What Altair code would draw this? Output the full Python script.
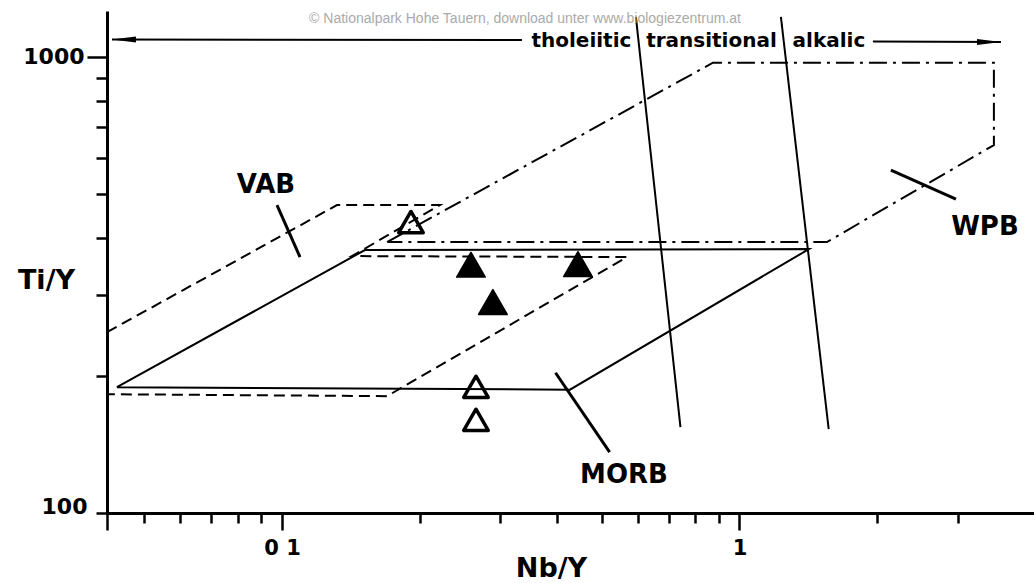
import altair as alt
import pandas as pd

# ---- axes -------------------------------------------------------------
X_DOMAIN = [0.04145, 4.404]
Y_DOMAIN = [100, 1259]
X_TICKS = [0.04145, 0.05, 0.06, 0.07, 0.08, 0.09, 0.1, 0.2, 0.3, 0.4, 0.5,
           0.6, 0.7, 0.8, 0.9, 1, 2, 3]
Y_TICKS = [100, 200, 300, 400, 500, 600, 700, 800, 900, 1000]

# ---- field outlines (Nb/Y, Ti/Y) --------------------------------------
VAB_X = [0.04145, 0.1319, 0.2215, 0.1422, 0.5675, 0.1697, 0.04145]
VAB_Y = [249, 473, 473, 365.6, 363.8, 180.3, 182.1]
MORB_X = [0.04357, 0.1518, 1.419, 0.4261, 0.04357]
MORB_Y = [188.7, 376.9, 378.8, 186.3, 188.7]
WPB_X = [0.1697, 0.8752, 3.599, 3.599, 1.553, 0.1697]
WPB_Y = [392.4, 970, 970, 640, 392.4, 392.4]

# ---- straight segments ------------------------------------------------
DIV_X0 = [0.5938, 1.232, 0.0425, 1.958]
DIV_Y0 = [1222, 1222, 1090, 1080]
DIV_X1 = [0.7431, 1.567, 0.3346, 3.729]
DIV_Y1 = [154.2, 152.6, 1088, 1077]

LEAD_X0 = [0.09752, 2.143, 0.3962]
LEAD_Y0 = [473, 563.8, 202.9]
LEAD_X1 = [0.1095, 2.973, 0.5203]
LEAD_Y1 = [363.8, 487.5, 135.9]

# ---- arrow heads ------------------------------------------------------
ARROW_L_X = [0.04514]
ARROW_L_Y = [1090]
ARROW_R_X = [3.511]
ARROW_R_Y = [1077]

# ---- samples ----------------------------------------------------------
FILLED_X = [0.2589, 0.2891, 0.4436]
FILLED_Y = [350, 290, 351]
OPEN_X = [0.1914, 0.2655, 0.2655]
OPEN_Y = [434, 189, 160]

# ---- text -------------------------------------------------------------
FIELD_TEXT = ["VAB", "WPB", "MORB"]
FIELD_X = [0.09226, 3.441, 0.5593]
FIELD_Y = [523, 423, 121]

HEADER_TEXT = ["tholeiitic", "transitional", "alkalic"]
HEADER_X = [0.4514, 0.8686, 1.569]
HEADER_Y = [1082, 1082, 1082]

WATERMARK = ["\u00a9 Nationalpark Hohe Tauern, download unter www.biologiezentrum.at"]
WATERMARK_X = [0.3398]
WATERMARK_Y = [1210]

FONT = "DejaVu Sans"

xscale = alt.Scale(type="log", domain=X_DOMAIN, nice=False)
yscale = alt.Scale(type="log", domain=Y_DOMAIN, nice=False)

x_axis = alt.Axis(
    values=X_TICKS, grid=False,
    title="Nb/Y", titleX=444, titleY=55, titleAlign="center", titleBaseline="middle",
    titleFont=FONT, titleFontSize=27, titleFontWeight="bold", titleColor="black",
    labelExpr="datum.value == 0.1 ? '0 1' : (datum.value == 1 ? '1' : '')",
    labelFont=FONT, labelFontSize=21, labelFontWeight="bold", labelColor="black",
    labelPadding=7, labelOverlap=False, labelFlush=False, labelBaseline="top",
    tickSize={"condition": {"test": "datum.value < 0.045 || datum.value == 0.1 || datum.value == 1",
                            "value": 17}, "value": 10},
    tickWidth=2.5, tickColor="black", domainColor="black", domainWidth=3,
)
y_axis = alt.Axis(
    values=Y_TICKS, grid=False,
    title="Ti/Y", titleAngle=0, titleX=-61, titleY=269, titleAlign="center", titleBaseline="middle",
    titleFont=FONT, titleFontSize=27, titleFontWeight="bold", titleColor="black",
    labelExpr="datum.value == 1000 ? '1000' : (datum.value == 100 ? '100' : '')",
    labelFont=FONT, labelFontSize=22, labelFontWeight="bold", labelColor="black",
    labelOverlap=False, labelFlush=False,
    labelPadding={"condition": {"test": "datum.value == 1000", "value": 3}, "value": 9},
    labelOffset={"condition": {"test": "datum.value == 100", "value": -7}, "value": 0},
    tickSize={"condition": {"test": "datum.value == 1000", "value": 20}, "value": 11},
    tickWidth=2.5, tickColor="black", domainColor="black", domainWidth=3,
)


def X(field="x"):
    return alt.X(f"{field}:Q", scale=xscale, axis=x_axis)


def Y(field="y"):
    return alt.Y(f"{field}:Q", scale=yscale, axis=y_axis)


def path_df(xs, ys):
    return pd.DataFrame({"x": xs, "y": ys, "i": list(range(len(xs)))})


vab = alt.Chart(path_df(VAB_X, VAB_Y)).mark_line(
    color="black", strokeWidth=2, strokeDash=[11, 6]
).encode(x=X(), y=Y(), order=alt.Order("i:Q"))

morb = alt.Chart(path_df(MORB_X, MORB_Y)).mark_line(
    color="black", strokeWidth=2
).encode(x=X(), y=Y(), order=alt.Order("i:Q"))

wpb = alt.Chart(path_df(WPB_X, WPB_Y)).mark_line(
    color="black", strokeWidth=2, strokeDash=[18, 6, 3, 6]
).encode(x=X(), y=Y(), order=alt.Order("i:Q"))

div_df = pd.DataFrame({"x": DIV_X0, "y": DIV_Y0, "x2": DIV_X1, "y2": DIV_Y1})
dividers = alt.Chart(div_df).mark_rule(color="black", strokeWidth=2).encode(
    x=X(), y=Y(), x2="x2:Q", y2="y2:Q")

lead_df = pd.DataFrame({"x": LEAD_X0, "y": LEAD_Y0, "x2": LEAD_X1, "y2": LEAD_Y1})
leaders = alt.Chart(lead_df).mark_rule(color="black", strokeWidth=3).encode(
    x=X(), y=Y(), x2="x2:Q", y2="y2:Q")

arrow_l = alt.Chart(path_df(ARROW_L_X, ARROW_L_Y)).mark_point(
    shape="M-1,0L1,-0.25L1,0.25Z", filled=True, size=576, color="black", opacity=1
).encode(x=X(), y=Y())
arrow_r = alt.Chart(path_df(ARROW_R_X, ARROW_R_Y)).mark_point(
    shape="M1,0L-1,-0.25L-1,0.25Z", filled=True, size=576, color="black", opacity=1
).encode(x=X(), y=Y())

filled = alt.Chart(path_df(FILLED_X, FILLED_Y)).mark_point(
    shape="triangle-up", filled=True, size=820, color="black", opacity=1,
    stroke="black", strokeWidth=1.5, strokeJoin="round"
).encode(x=X(), y=Y())

open_tri = alt.Chart(path_df(OPEN_X, OPEN_Y)).mark_point(
    shape="triangle-up", filled=False, size=600, color="black", opacity=1,
    strokeWidth=3.5, strokeJoin="round"
).encode(x=X(), y=Y())

field_df = pd.DataFrame({"x": FIELD_X, "y": FIELD_Y, "t": FIELD_TEXT})
field_text = alt.Chart(field_df).mark_text(
    font=FONT, fontSize=26, fontWeight="bold", color="black",
    align="center", baseline="middle"
).encode(x=X(), y=Y(), text="t:N")

header_df = pd.DataFrame({"x": HEADER_X, "y": HEADER_Y, "t": HEADER_TEXT})
header_text = alt.Chart(header_df).mark_text(
    font=FONT, fontSize=20, fontWeight="bold", color="black",
    align="center", baseline="middle"
).encode(x=X(), y=Y(), text="t:N")

wm_df = pd.DataFrame({"x": WATERMARK_X, "y": WATERMARK_Y, "t": WATERMARK})
watermark = alt.Chart(wm_df).mark_text(
    font="Liberation Sans", fontSize=14, color="#aaaaaa",
    align="center", baseline="middle"
).encode(x=X(), y=Y(), text="t:N")

chart = alt.layer(
    vab, morb, wpb, dividers, leaders, arrow_l, arrow_r,
    filled, open_tri, field_text, header_text, watermark
).properties(
    width=927, height=502,
    autosize=alt.AutoSizeParams(type="none"),
    padding={"left": 107, "top": 11, "right": 0, "bottom": 70},
    background="white",
).configure_view(stroke=None)

chart.save("out.html", embed_options={"renderer": "svg", "actions": False})
